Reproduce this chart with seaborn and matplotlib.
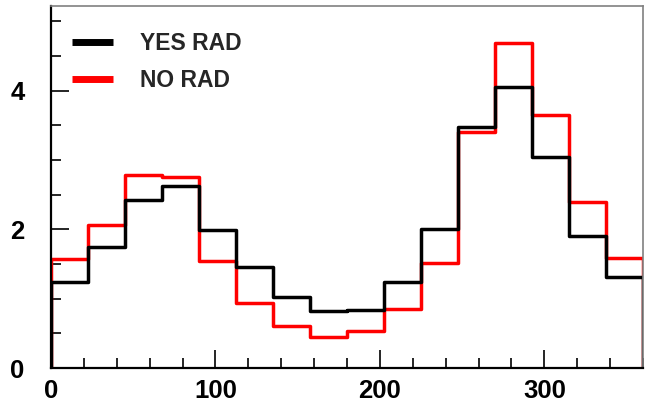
import numpy as np
import pandas as pd
import matplotlib
matplotlib.use('Agg')
import matplotlib.pyplot as plt
import seaborn as sns

edges = list(np.linspace(0, 360, 17))
centers = [(a + b) / 2 for a, b in zip(edges[:-1], edges[1:])]

yes_rad = [1.24, 1.74, 2.42, 2.62, 1.99, 1.45, 1.02, 0.82,
           0.83, 1.24, 2.00, 3.47, 4.06, 3.05, 1.91, 1.31]
no_rad = [1.57, 2.06, 2.78, 2.76, 1.54, 0.94, 0.60, 0.45,
          0.53, 0.85, 1.51, 3.41, 4.69, 3.65, 2.40, 1.58]

df = pd.DataFrame({'x': centers + centers,
                   'w': yes_rad + no_rad,
                   'series': ['YES RAD'] * 16 + ['NO RAD'] * 16})

sns.set_style('ticks')
plt.rcParams['font.family'] = ['Liberation Sans', 'DejaVu Sans']
plt.rcParams['font.weight'] = 'bold'

fig = plt.figure(figsize=(6.45, 4.04), dpi=100)
ax = fig.add_axes([0.079, 0.089, 0.918, 0.896])

lw = 2.5
for name, color in [('NO RAD', '#ff0000'), ('YES RAD', 'black')]:
    sub = df[df['series'] == name]
    sns.histplot(data=sub, x='x', weights='w', bins=edges, element='step',
                 fill=False, color=color, lw=lw, ax=ax, label=name)
    vals = sub['w'].values
    ax.vlines([edges[0], edges[-1]], 0, [vals[0], vals[-1]], color=color, lw=lw)

ax.set_xlim(0, 360)
ax.set_ylim(0, 5.22)
ax.set_xlabel('')
ax.set_ylabel('')
ax.set_xticks([0, 100, 200, 300])
ax.set_xticks(np.arange(0, 361, 20), minor=True)
ax.set_yticks([0, 2, 4])
ax.set_yticks(np.arange(0, 5.1, 0.5), minor=True)
ax.tick_params(which='both', direction='in', width=1.2, colors='black',
               labelsize=18.5, top=False, right=False)
ax.tick_params(which='major', length=13)
ax.tick_params(which='minor', length=7)
ax.tick_params(axis='x', which='major', pad=8)
ax.tick_params(axis='y', which='major', pad=19)
for lab in ax.get_xticklabels() + ax.get_yticklabels():
    lab.set_fontweight('bold')

for s in ['left', 'bottom']:
    ax.spines[s].set_linewidth(1.6)
    ax.spines[s].set_color('black')
for s in ['top', 'right']:
    ax.spines[s].set_linewidth(1.2)
    ax.spines[s].set_color('#808080')

handles = [plt.Line2D([], [], color='black', lw=5, solid_capstyle='butt'),
           plt.Line2D([], [], color='#ff0000', lw=5, solid_capstyle='butt')]
ax.legend(handles, ['YES RAD', 'NO RAD'], loc='upper left', frameon=False,
          bbox_to_anchor=(0.0, 0.985), prop={'size': 16.5, 'weight': 'bold'},
          handlelength=1.8, handletextpad=1.2, labelspacing=0.62)

plt.savefig('out.png', dpi=100)
plt.close()
